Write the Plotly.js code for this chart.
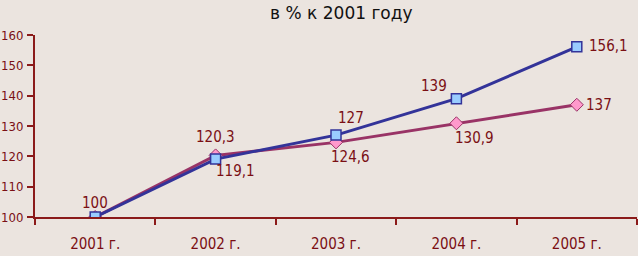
<!DOCTYPE html>
<html><head><meta charset="utf-8">
<script src="https://cdn.plot.ly/plotly-3.0.1.min.js"></script>
<style>body{margin:0;background:#ebe4df}</style>
</head><body>
<div id="chart" style="width:638px;height:256px"></div>
<script>
const categories = ["2001 г.", "2002 г.", "2003 г.", "2004 г.", "2005 г."];
const seriesBlue = [100, 119.1, 127, 139, 156.1];
const seriesPink = [100, 120.3, 124.6, 130.9, 137];
const yTicks = [100, 110, 120, 130, 140, 150, 160];

const red = "#7a0f14";
const fam = "'DejaVu Sans Condensed', 'Liberation Sans Narrow', sans-serif";
const labelFont = {family: fam, size: 15, color: red};
const yFont = {family: fam, size: 13, color: red};
const fmt = v => String(v).replace('.', ',');

// label offsets (px) per point
const blueOff = [[0, 14], [20, -12], [15, 17], [-22, 13], [32, 1]];
const pinkOff = [null, [0, 18], [14, -15], [18, -15], [22, 0]];

const annotations = [];
seriesBlue.forEach((v, i) => {
  annotations.push({x: categories[i], y: v, text: fmt(v), showarrow: false,
    xshift: blueOff[i][0], yshift: blueOff[i][1], font: labelFont});
});
seriesPink.forEach((v, i) => {
  if (!pinkOff[i]) return;
  annotations.push({x: categories[i], y: v, text: fmt(v), showarrow: false,
    xshift: pinkOff[i][0], yshift: pinkOff[i][1], font: labelFont});
});

const traces = [
  {x: categories, y: seriesPink, type: "scatter", mode: "lines+markers",
   line: {color: "#993366", width: 3},
   marker: {symbol: "diamond", size: 10, color: "#ff99cc", line: {color: "#993366", width: 1}}},
  {x: categories, y: seriesBlue, type: "scatter", mode: "lines+markers",
   line: {color: "#333399", width: 3},
   marker: {symbol: "square", size: 10, color: "#99ccff", line: {color: "#333399", width: 1.5}}}
];

const layout = {
  width: 638, height: 256,
  paper_bgcolor: "#ebe4df", plot_bgcolor: "#ebe4df",
  margin: {l: 35, r: 1, t: 35, b: 39},
  showlegend: false,
  title: {text: "в % к 2001 году", font: {family: "'DejaVu Sans', Verdana, sans-serif", size: 17, color: "#111111"},
          x: 0.535, xref: "container", y: 0.95, yref: "container", xanchor: "center", yanchor: "middle"},
  xaxis: {type: "category", range: [-0.5, 4.5], showgrid: false, zeroline: false,
    showline: true, linecolor: "#8b1a1a", linewidth: 2, ticks: "outside", tickson: "boundaries",
    ticklen: 6, tickwidth: 2, tickcolor: "#8b1a1a", ticklabelstandoff: 12,
    tickfont: {family: fam, size: 15, color: red}},
  yaxis: {range: [100, 160], tickvals: yTicks, showgrid: false, zeroline: false,
    showline: true, linecolor: "#8b1a1a", linewidth: 2, ticks: "outside",
    ticklen: 6, tickwidth: 2, tickcolor: "#8b1a1a", ticklabelstandoff: 1,
    tickfont: yFont},
  annotations: annotations
};

Plotly.newPlot("chart", traces, layout, {displayModeBar: false, staticPlot: true});
</script>
</body></html>
